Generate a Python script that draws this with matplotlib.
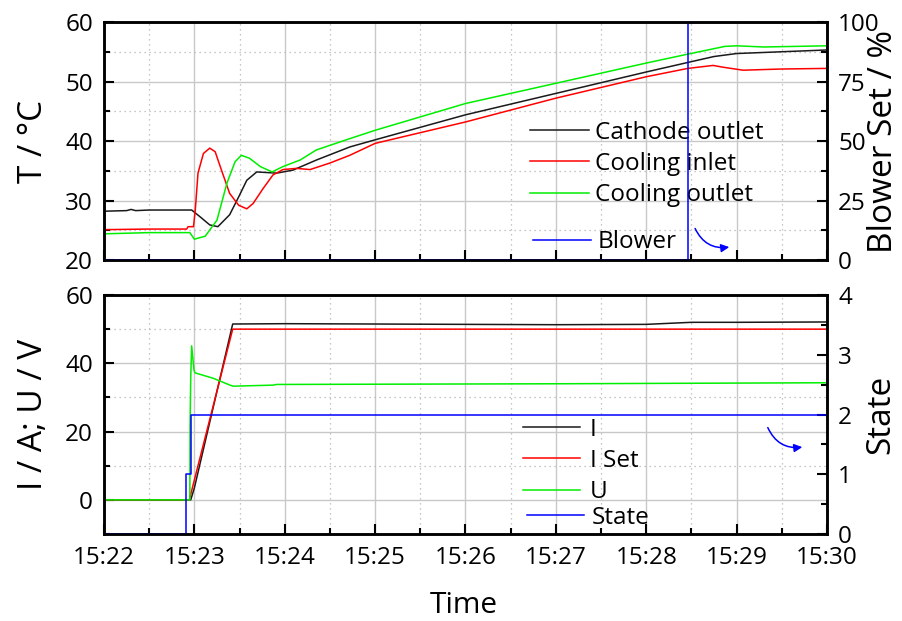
import numpy as np
import matplotlib
matplotlib.use("Agg")
import matplotlib.pyplot as plt
from matplotlib.ticker import MultipleLocator, FixedLocator

plt.rcParams['font.family'] = ['Open Sans', 'DejaVu Sans']

# Zeit in Minuten nach 15:22
t_cath = [0, 0.25, 0.3, 0.35, 0.5, 0.97, 1.06, 1.17, 1.26, 1.39, 1.49, 1.58, 1.69,
          1.91, 2.09, 2.35, 2.72, 3.0, 4.0, 5.0, 6.0, 6.46, 6.75, 7.0, 7.5, 8.0]
T_cath = [28.2, 28.3, 28.5, 28.3, 28.4, 28.4, 27.3, 25.9, 25.6, 27.6, 30.6, 33.4, 34.8,
          34.6, 35.1, 36.8, 39.0, 40.2, 44.4, 48.0, 51.6, 53.2, 54.2, 54.7, 55.0, 55.3]

t_cin = [0, 0.5, 0.915, 0.93, 0.99, 1.01, 1.04, 1.10, 1.17, 1.23, 1.30, 1.39, 1.49, 1.58,
         1.65, 1.76, 1.87, 1.98, 2.13, 2.28, 2.50, 2.72, 3.0, 4.0, 5.0, 6.0, 6.46, 6.74,
         6.85, 7.07, 7.5, 8.0]
T_cin = [25.1, 25.2, 25.2, 25.6, 25.6, 28.4, 34.6, 37.9, 38.8, 38.2, 35.1, 31.2, 29.2, 28.6,
         29.5, 32.0, 34.3, 35.2, 35.4, 35.2, 36.3, 37.6, 39.6, 43.2, 47.2, 50.8, 52.2, 52.7,
         52.4, 51.9, 52.1, 52.2]

t_cout = [0, 0.5, 0.95, 1.0, 1.12, 1.25, 1.36, 1.45, 1.52, 1.61, 1.73, 1.86, 1.98, 2.17,
          2.35, 2.72, 3.0, 4.0, 5.0, 6.0, 6.46, 6.87, 7.0, 7.3, 8.0]
T_cout = [24.4, 24.6, 24.6, 23.5, 24.0, 26.7, 32.9, 36.5, 37.6, 37.1, 35.7, 34.8, 35.7, 36.8,
          38.5, 40.4, 41.8, 46.3, 49.7, 53.1, 54.6, 55.9, 56.0, 55.8, 56.0]

t_blow = [0, 6.462, 8.0]
blower = [0, 100, 100]

t_I = [0, 0.96, 1.0, 1.424, 2.0, 3.0, 4.0, 5.0, 6.0, 6.5, 7.0, 8.0]
I = [0, 0, 3.5, 51.5, 51.6, 51.5, 51.4, 51.3, 51.4, 52.0, 52.0, 52.1]

t_Iset = [0, 0.944, 1.424, 8.0]
I_set = [0, 0, 50, 50]

t_U = [0, 0.95, 0.952, 0.96, 0.97, 0.996, 1.007, 1.21, 1.394, 1.43, 1.87, 1.91, 5.0, 8.0]
U = [0, 0, 21.4, 36.1, 45.1, 38.0, 37.2, 35.6, 33.6, 33.3, 33.6, 33.8, 34.0, 34.3]

t_state = [0, 0.91, 0.965, 8.0]
state = [0, 1, 2, 2]

xtick_labels = ['15:22', '15:23', '15:24', '15:25', '15:26', '15:27', '15:28', '15:29', '15:30']

fig = plt.figure(figsize=(9.02, 6.21), dpi=100)
ax1 = fig.add_axes([104 / 902, 1 - 260 / 621, 723 / 902, 238 / 621])
ax2 = fig.add_axes([104 / 902, 1 - 534 / 621, 723 / 902, 239 / 621])
ax1r = ax1.twinx()
ax2r = ax2.twinx()

fs = 17.5    # Tick-Beschriftung
fs_leg = 17.5
fs_lab = 24


def style(ax, axr):
    ax.set_xlim(0, 8)
    ax.xaxis.set_major_locator(MultipleLocator(1))
    ax.xaxis.set_minor_locator(MultipleLocator(0.5))
    ax.grid(which='major', color='#c8c8c8', lw=1.0)
    ax.grid(which='minor', color='#b4b4b4', lw=0.9, ls=(0, (1, 3)))
    ax.set_axisbelow(True)
    for a in (ax, axr):
        a.tick_params(which='major', direction='in', length=7, width=1.5, labelsize=fs)
        a.tick_params(which='minor', direction='in', length=4.5, width=1.5)
        for s in a.spines.values():
            s.set_linewidth(1.8)
    ax.tick_params(axis='y', pad=8)
    axr.tick_params(axis='y', pad=8)
    ax.tick_params(axis='x', top=False, pad=8.5)


# Oberes Diagramm: Temperaturen
style(ax1, ax1r)
ax1.set_ylim(20, 60)
ax1.yaxis.set_major_locator(MultipleLocator(10))
ax1.yaxis.set_minor_locator(MultipleLocator(5))
ax1.tick_params(axis='x', labelbottom=False)
ax1r.set_ylim(0, 100)
ax1r.yaxis.set_major_locator(MultipleLocator(25))
ax1r.yaxis.set_minor_locator(MultipleLocator(12.5))

l1, = ax1.plot(t_cath, T_cath, color='#1a1a1a', lw=1.1, label='Cathode outlet')
l2, = ax1.plot(t_cin, T_cin, color='#ff0000', lw=1.1, label='Cooling inlet')
l3, = ax1.plot(t_cout, T_cout, color='#00ee00', lw=1.1, label='Cooling outlet')
lb, = ax1r.plot(t_blow, blower, color='#0000ff', lw=1.1, drawstyle='steps-post', label='Blower')

ax1.set_ylabel('T / °C', fontsize=fs_lab)
ax1.yaxis.set_label_coords(-0.075, 0.5)
ax1r.set_ylabel('Blower Set / %', fontsize=fs_lab)
ax1r.yaxis.set_label_coords(1.056, 0.5)

ax1.legend(handles=[l1, l2, l3], loc='upper left', bbox_to_anchor=(0.589, 0.586),
           frameon=False, fontsize=fs_leg, handlelength=2.45, handletextpad=0.25,
           borderpad=0, borderaxespad=0, labelspacing=0.3)
ax1r.legend(handles=[lb], loc='upper left', bbox_to_anchor=(0.593, 0.124),
            frameon=False, fontsize=fs_leg, handlelength=2.4, handletextpad=0.25,
            borderpad=0, borderaxespad=0)
ax1r.annotate('', xy=(0.8686, 0.056), xytext=(0.816, 0.143), xycoords='axes fraction',
              arrowprops=dict(arrowstyle='-|>', color='#0000ff', lw=1.1,
                              connectionstyle='arc3,rad=0.4', mutation_scale=12))

# Unteres Diagramm: Strom, Spannung, Zustand
style(ax2, ax2r)
ax2.set_ylim(-10, 60)
ax2.yaxis.set_major_locator(FixedLocator([0, 20, 40, 60]))
ax2.yaxis.set_minor_locator(FixedLocator([-10, 10, 30, 50]))
ax2r.set_ylim(0, 4)
ax2r.yaxis.set_major_locator(MultipleLocator(1))
ax2r.yaxis.set_minor_locator(MultipleLocator(0.5))
ax2.set_xticks(range(9))
ax2.set_xticklabels(xtick_labels)

m1, = ax2.plot(t_I, I, color='#1a1a1a', lw=1.1, label='I')
m2, = ax2.plot(t_Iset, I_set, color='#ff0000', lw=1.1, label='I Set')
m3, = ax2.plot(t_U, U, color='#00ee00', lw=1.1, label='U')
ms, = ax2r.plot(t_state, state, color='#0000ff', lw=1.1, drawstyle='steps-post', label='State')

ax2.set_ylabel('I / A; U / V', fontsize=fs_lab)
ax2.yaxis.set_label_coords(-0.075, 0.5)
ax2r.set_ylabel('State', fontsize=fs_lab)
ax2r.yaxis.set_label_coords(1.051, 0.5)
ax2.set_xlabel('Time', fontsize=21.5)
ax2.xaxis.set_label_coords(0.497, -0.24)

ax2.legend(handles=[m1, m2, m3], loc='upper left', bbox_to_anchor=(0.5795, 0.487),
           frameon=False, fontsize=fs_leg, handlelength=2.35, handletextpad=0.4,
           borderpad=0, borderaxespad=0, labelspacing=0.3)
ax2r.legend(handles=[ms], loc='upper left', bbox_to_anchor=(0.585, 0.119),
            frameon=False, fontsize=fs_leg, handlelength=2.35, handletextpad=0.3,
            borderpad=0, borderaxespad=0)
ax2r.annotate('', xy=(0.9696, 0.365), xytext=(0.9166, 0.456), xycoords='axes fraction',
              arrowprops=dict(arrowstyle='-|>', color='#0000ff', lw=1.1,
                              connectionstyle='arc3,rad=0.4', mutation_scale=12))

fig.savefig('out.png', dpi=100)
